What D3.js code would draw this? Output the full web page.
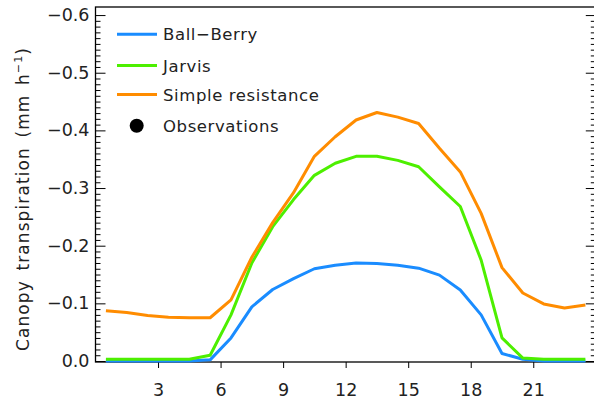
<!DOCTYPE html>
<html>
<head>
<meta charset="utf-8">
<script src="https://cdn.jsdelivr.net/npm/d3@7"></script>
<style>
  body { margin: 0; background: #fff; }
  svg { display: block; }
  text { font-family: "DejaVu Sans", sans-serif; fill: #222; }
</style>
</head>
<body>
<div id="chart"></div>
<script>
// hour of day (centre of each hourly bin)
var hours = [0.5, 1.5, 2.5, 3.5, 4.5, 5.5, 6.5, 7.5, 8.5, 9.5, 10.5, 11.5,
             12.5, 13.5, 14.5, 15.5, 16.5, 17.5, 18.5, 19.5, 20.5, 21.5, 22.5, 23.5];

var ballBerry = [0, 0, 0, 0, 0, -0.002, -0.040, -0.094, -0.124, -0.143, -0.160, -0.166,
                 -0.170, -0.169, -0.166, -0.161, -0.149, -0.123, -0.080, -0.013, -0.003, 0, 0, 0];

var jarvis = [-0.003, -0.003, -0.003, -0.003, -0.003, -0.010, -0.080, -0.170, -0.233, -0.280, -0.322, -0.343,
              -0.355, -0.355, -0.348, -0.337, -0.302, -0.268, -0.175, -0.040, -0.005, -0.003, -0.003, -0.003];

var simpleRes = [-0.087, -0.084, -0.079, -0.076, -0.075, -0.075, -0.106, -0.180, -0.240, -0.292, -0.355, -0.389,
                 -0.418, -0.431, -0.423, -0.412, -0.369, -0.328, -0.256, -0.162, -0.118, -0.099, -0.092, -0.097];

var xTicks = [3, 6, 9, 12, 15, 18, 21];
var yTicks = [0, -0.1, -0.2, -0.3, -0.4, -0.5, -0.6];

var legendNames = ["Ball\u2212Berry", "Jarvis", "Simple resistance"];
var colors = ["#1a8cff", "#4def00", "#ff8c00"];

var W = 594, H = 402;
var svg = d3.select("#chart").append("svg")
    .attr("width", W)
    .attr("height", H);

var x = d3.scaleLinear().domain([0, 24]).range([95.5, 595.8]);
var y = d3.scaleLinear().domain([0, -0.614]).range([361, 7]);
var yBottom = 362;

// minor ticks every 0.01
var minorTicks = d3.range(0, 61).map(function(i) { return -i / 100; })
    .filter(function(v) { return Math.round(v * 100) % 10 !== 0; });

// left axis
svg.append("g")
    .attr("transform", "translate(" + x(0) + ",0)")
    .call(d3.axisLeft(y).tickValues(minorTicks).tickSize(-5).tickFormat(""))
    .call(function(g) { g.select(".domain").remove(); });

var yAxisL = svg.append("g")
    .attr("class", "axis")
    .attr("transform", "translate(" + x(0) + ",0)")
    .call(d3.axisLeft(y).tickValues(yTicks).tickSize(-10).tickPadding(6)
        .tickFormat(d3.format(".1f")));
yAxisL.select(".domain").remove();
yAxisL.selectAll("text").attr("font-size", 17.5).attr("font-family", "DejaVu Sans").attr("fill", "#222");

// right axis
svg.append("g")
    .attr("transform", "translate(" + x(24) + ",0)")
    .call(d3.axisRight(y).tickValues(minorTicks).tickSize(-5).tickFormat(""))
    .call(function(g) { g.select(".domain").remove(); });
svg.append("g")
    .attr("transform", "translate(" + x(24) + ",0)")
    .call(d3.axisRight(y).tickValues(yTicks).tickSize(-10).tickFormat(""))
    .call(function(g) { g.select(".domain").remove(); });

// bottom axis
var xAxis = svg.append("g")
    .attr("transform", "translate(0," + yBottom + ")")
    .call(d3.axisBottom(x).tickValues(xTicks).tickSize(6).tickPadding(16));
xAxis.select(".domain").remove();
xAxis.selectAll("text").attr("font-size", 17.5).attr("font-family", "DejaVu Sans").attr("fill", "#222");

// frame
svg.append("rect")
    .attr("x", x(0))
    .attr("y", y(-0.614))
    .attr("width", x(24) - x(0))
    .attr("height", yBottom - y(-0.614))
    .attr("fill", "none")
    .attr("stroke", "#000")
    .attr("stroke-width", 1.3);

// y label
svg.append("text")
    .attr("transform", "translate(29," + 199 + ") rotate(-90)")
    .attr("text-anchor", "middle")
    .attr("font-size", 17)
    .attr("letter-spacing", 1.1)
    .attr("word-spacing", 3)
    .text("Canopy transpiration (mm h")
    .append("tspan").attr("dy", -7).attr("font-size", 11).text("\u22121")
    .select(function() { return this.parentNode; })
    .append("tspan").attr("dy", 7).text(")");

// series lines
var line = d3.line()
    .x(function(d, i) { return x(hours[i]); })
    .y(function(d) { return y(d); });

[ballBerry, jarvis, simpleRes].forEach(function(s, k) {
  svg.append("path")
      .datum(s)
      .attr("fill", "none")
      .attr("stroke", colors[k])
      .attr("stroke-width", 3)
      .attr("stroke-linejoin", "round")
      .attr("d", line);
});

// legend
var legY = [34.3, 65.5, 94.5];
legendNames.forEach(function(name, k) {
  svg.append("line")
      .attr("x1", 117).attr("x2", 157)
      .attr("y1", legY[k]).attr("y2", legY[k])
      .attr("stroke", colors[k])
      .attr("stroke-width", 3);
  svg.append("text")
      .attr("x", 163)
      .attr("y", legY[k] + 6)
      .attr("font-size", 16.5)
      .attr("letter-spacing", 0.6)
      .text(name);
});
svg.append("circle")
    .attr("cx", 136.7).attr("cy", 125.7).attr("r", 7)
    .attr("fill", "#000");
svg.append("text")
    .attr("x", 163)
    .attr("y", 125.7 + 6)
    .attr("font-size", 16.5)
    .attr("letter-spacing", 0.6)
    .text("Observations");
</script>
</body>
</html>
